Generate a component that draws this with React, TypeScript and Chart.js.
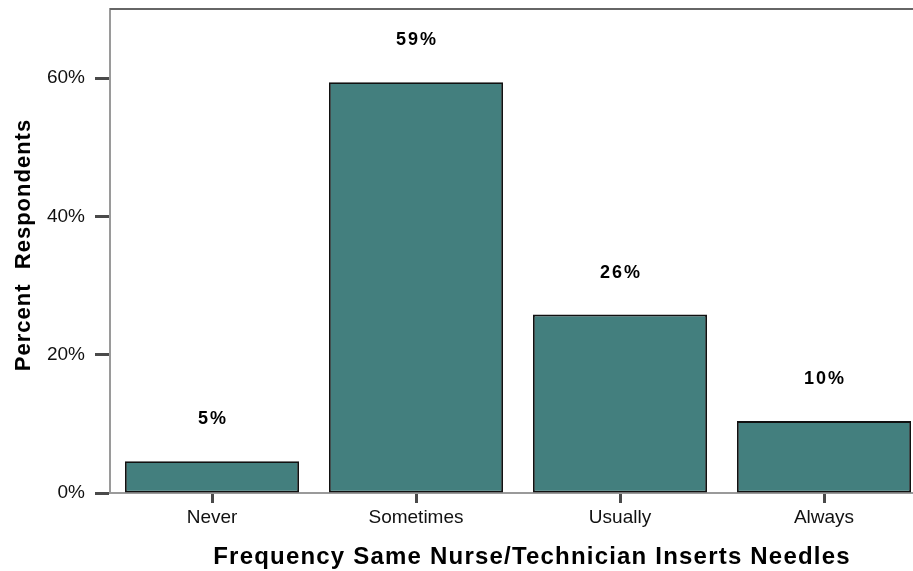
import React, { useEffect, useRef } from "react";
import { Chart, registerables } from "chart.js";

Chart.register(...registerables);

const categories = ["Never", "Sometimes", "Usually", "Always"];
const percentValues = [4.6, 59.4, 25.8, 10.4];
const valueLabels = ["5%", "59%", "26%", "10%"];
const yTickValues = [0, 20, 40, 60];
const xTitle = "Frequency Same Nurse/Technician Inserts Needles";
const yTitle = "Percent  Respondents";

const FONT = "'Liberation Sans', Arial, sans-serif";

const decorPlugin = {
  id: "decor",
  afterDraw(chart: any) {
    const { ctx, chartArea } = chart;
    ctx.save();
    // top frame line
    ctx.strokeStyle = "#666666";
    ctx.lineWidth = 2;
    ctx.beginPath();
    ctx.moveTo(chartArea.left, chartArea.top);
    ctx.lineTo(chartArea.right + 20, chartArea.top);
    ctx.stroke();

    // axis titles
    ctx.fillStyle = "#000";
    ctx.textAlign = "center";
    ctx.textBaseline = "middle";
    ctx.font = `bold 24px ${FONT}`;
    (ctx as any).letterSpacing = "1.2px";
    ctx.fillText(xTitle, (chartArea.left + chartArea.right) / 2 + 14, 557);

    ctx.save();
    ctx.translate(24, (chartArea.top + chartArea.bottom) / 2 - 6);
    ctx.rotate(-Math.PI / 2);
    ctx.font = `bold 22px ${FONT}`;
    (ctx as any).letterSpacing = "1px";
    ctx.fillText(yTitle, 0, 0);
    ctx.restore();
    ctx.restore();
  },
};

const barLabelPlugin = {
  id: "barLabels",
  afterDatasetsDraw(chart: any) {
    const { ctx } = chart;
    const meta = chart.getDatasetMeta(0);
    ctx.save();
    ctx.font = `bold 18px ${FONT}`;
    ctx.fillStyle = "#000";
    ctx.textAlign = "center";
    ctx.textBaseline = "middle";
    (ctx as any).letterSpacing = "2px";
    meta.data.forEach((bar: any, i: number) => {
      ctx.fillText(valueLabels[i], bar.x + 1, bar.y - 42);
    });
    ctx.restore();
  },
};

export default function App() {
  const canvasRef = useRef<HTMLCanvasElement | null>(null);

  useEffect(() => {
    if (!canvasRef.current) return;
    const chart = new Chart(canvasRef.current, {
      type: "bar",
      data: {
        labels: categories,
        datasets: [
          {
            data: percentValues,
            backgroundColor: "#437f7e",
            borderColor: "#111111",
            borderWidth: 1.8,
            borderSkipped: false,
            categoryPercentage: 1,
            barPercentage: 0.853,
          },
        ],
      },
      options: {
        responsive: false,
        animation: false,
        layout: { padding: { top: 9, right: 4, left: 0, bottom: 0 } },
        plugins: {
          legend: { display: false },
          tooltip: { enabled: false },
        },
        scales: {
          x: {
            offset: true,
            grid: {
              offset: false,
              drawOnChartArea: false,
              drawTicks: true,
              tickLength: 10,
              tickWidth: 3,
              tickColor: "#4a4a4a",
            },
            border: { display: true, color: "#9a9a9a", width: 2 },
            ticks: {
              color: "#111",
              font: { family: FONT, size: 19 },
              padding: 3,
              maxRotation: 0,
            },
            afterFit(scale: any) {
              scale.height = 78;
              scale.paddingLeft = 0;
              scale.paddingRight = 0;
            },
          },
          y: {
            min: 0,
            max: 70,
            afterBuildTicks(scale: any) {
              scale.ticks = yTickValues.map((v) => ({ value: v }));
            },
            grid: {
              drawOnChartArea: false,
              drawTicks: true,
              tickLength: 15,
              tickWidth: 3,
              tickColor: "#4a4a4a",
            },
            border: { display: true, color: "#9a9a9a", width: 2 },
            ticks: {
              color: "#111",
              font: { family: FONT, size: 19 },
              padding: 10,
              callback: (v: any) => `${v}%`,
            },
            afterFit(scale: any) {
              scale.width = 110;
              scale.paddingTop = 0;
              scale.paddingBottom = 0;
            },
          },
        },
      },
      plugins: [decorPlugin, barLabelPlugin],
    });
    return () => chart.destroy();
  }, []);

  return (
    <div
      style={{
        position: "fixed",
        left: 0,
        top: 0,
        width: 913,
        height: 571,
        overflow: "hidden",
        background: "#fff",
      }}
    >
      <canvas
        ref={canvasRef}
        width={930}
        height={571}
        style={{ width: 930, height: 571, display: "block" }}
      />
    </div>
  );
}
